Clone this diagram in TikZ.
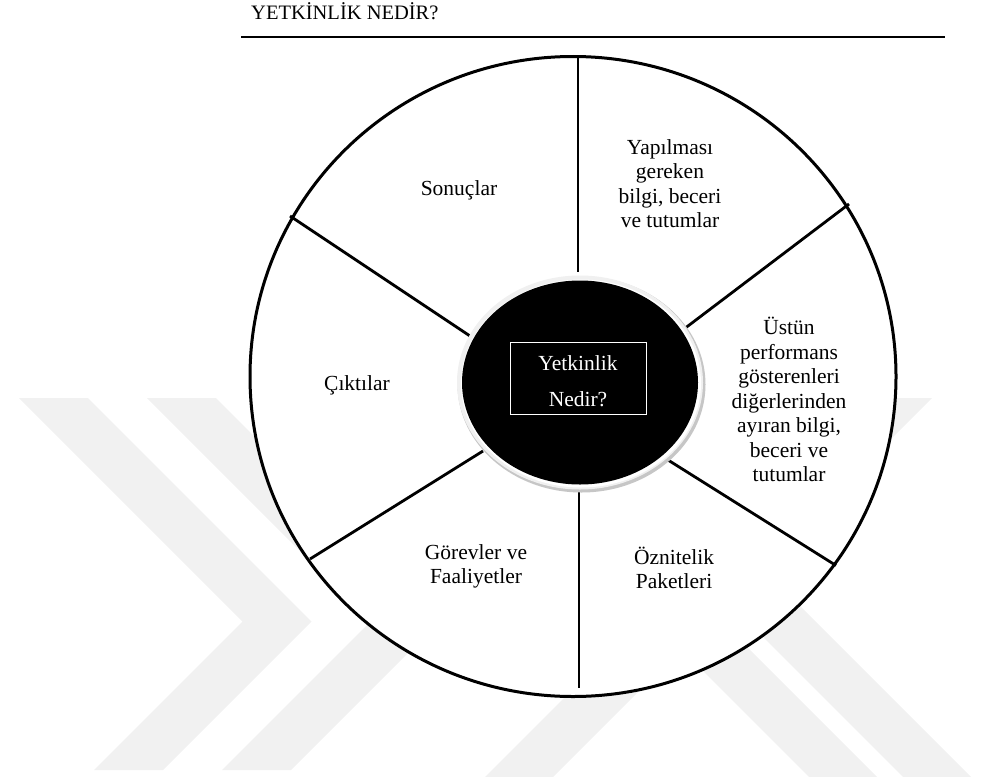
\documentclass[tikz,border=0pt]{standalone}
\usepackage{fontspec}
\setmainfont{Liberation Serif}
\usetikzlibrary{shapes.geometric}
\definecolor{wmark}{gray}{0.945}
\begin{document}
\begin{tikzpicture}[x=1pt,y=-1pt,
  lbl/.style={font=\fontsize{21.5}{24.5}\selectfont, align=center, inner sep=0pt},
  spoke/.style={line width=2.8pt},
  band/.style={fill=wmark},
]
\useasboundingbox (0,0) rectangle (981,776);

% faint background logo bands
\begin{scope}
\clip (0,398) rectangle (981,776);
\fill[band] (19,398) -- (88,398) -- (311.5,621.5) -- (163,770) -- (94,770) -- (242.5,621.5) -- cycle;
\fill[band] (147,398) -- (216,398) -- (439.5,621.5) -- (291,770) -- (222,770) -- (370.5,621.5) -- cycle;
\fill[band] (864,398) -- (932,398) -- (550,780) -- (482,780) -- cycle;
\fill[band] (430,398) -- (498,398) -- (880,780) -- (812,780) -- cycle;
\fill[band] (524,398) -- (592,398) -- (974,780) -- (906,780) -- cycle;
\end{scope}

% heading and rule
\node[anchor=base west, inner sep=0pt, font=\fontsize{20.5}{24}\selectfont] (title) at (251,19.3) {YETKİNLİK NEDİR?};
\coordinate (ruleL) at (241,37.5);
\coordinate (ruleR) at (945,37.5);
\draw[line width=2pt] (ruleL) -- (ruleR);

% outer wheel
\node[draw, line width=3pt, fill=white, ellipse, inner sep=0pt,
      minimum width=646pt, minimum height=640pt] (wheel) at (573,376.5) {};

% spoke end points
\coordinate (tO) at (578,58);   \coordinate (tI) at (578,272);
\coordinate (urO) at (849,204); \coordinate (urI) at (684,329);
\coordinate (ulO) at (290,216); \coordinate (ulI) at (473,338);
\coordinate (llO) at (310,559); \coordinate (llI) at (483,451);
\coordinate (lrO) at (836,565.5); \coordinate (lrI) at (668,460);
\coordinate (bI) at (579,489);  \coordinate (bO) at (579,688);

\draw[spoke] (tO) -- (tI);
\draw[spoke] (urO) -- (urI);
\draw[spoke] (ulO) -- (ulI);
\draw[spoke] (llO) -- (llI);
\draw[spoke] (lrO) -- (lrI);
\draw[spoke] (bI) -- (bO);

% central hub with bevelled rim
\fill[gray!45] (581.5,384.5) ellipse [x radius=124, y radius=108];
\fill[gray!12] (580,382.5) ellipse [x radius=123, y radius=107];
\fill[white] (581,383.5) ellipse [x radius=120, y radius=104];
\node[fill=black, ellipse, inner sep=0pt, minimum width=236pt, minimum height=204pt] (hub) at (580,382.5) {};
\node[draw=white, line width=1pt, minimum width=136pt, minimum height=72pt, inner sep=0pt] (box) at (578,378) {};
\node[lbl, text=white] (q1) at (578,363) {Yetkinlik};
\node[lbl, text=white] (q2) at (578,399) {Nedir?};

% sector labels
\node[lbl] (s1) at (459,190) {Sonuçlar};
\node[lbl] (s2) at (670,183.5) {Yapılması\\gereken\\bilgi, beceri\\ve tutumlar};
\node[lbl] (s3) at (357,385) {Çıktılar};
\node[lbl] (s4) at (789,399.5) {Üstün\\performans\\gösterenleri\\diğerlerinden\\ayıran bilgi,\\beceri ve\\tutumlar};
\node[lbl] (s5) at (476,566.5) {Görevler ve\\Faaliyetler};
\node[lbl] (s6) at (674,568) {Öznitelik\\Paketleri};
\end{tikzpicture}
\end{document}
